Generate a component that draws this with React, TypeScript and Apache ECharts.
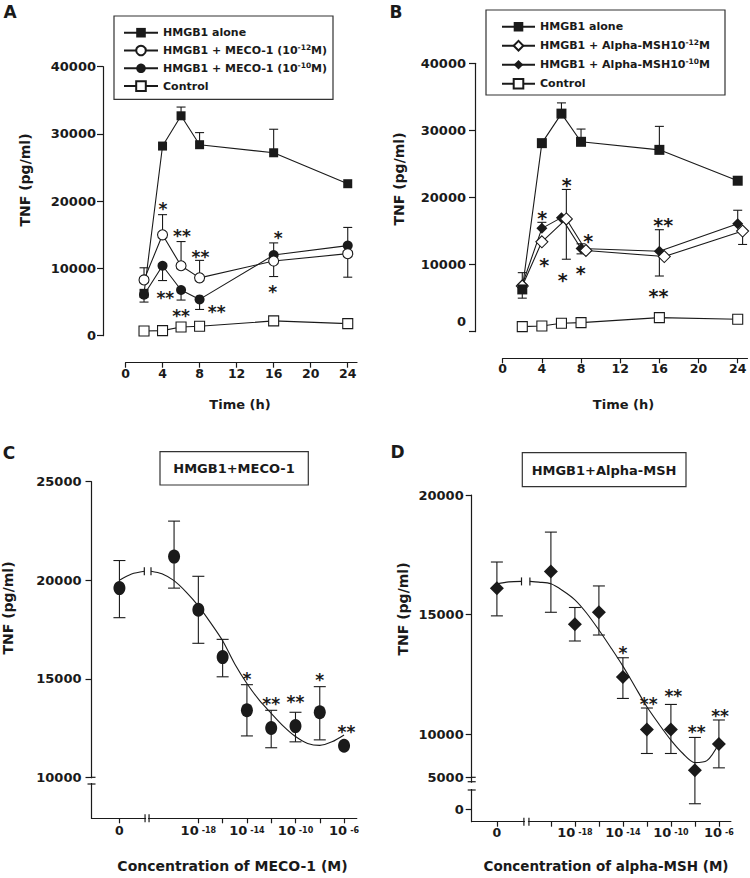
import React, { useEffect, useRef } from 'react';
import * as echarts from 'echarts';

// ---------------- Data ----------------
const TIMES = [2, 4, 6, 8, 16, 24];
const TIME_TICKS = [0, 4, 8, 12, 16, 20, 24];

// Panel A
const A_NAMES = ['HMGB1 alone', 'HMGB1 + MECO-1 (10-12M)', 'HMGB1 + MECO-1 (10-10M)', 'Control'];
const A_ALONE = [6300, 28200, 32700, 28400, 27200, 22600];
const A_ALONE_UP = [null, null, 34000, 30200, 30700, null];
const A_ALONE_DOWN = [null, null, null, null, null, null];
const A_M12 = [8300, 15000, 10400, 8600, 11100, 12200];
const A_M12_UP = [10100, 18000, 14000, 11200, null, null];
const A_M12_DOWN = [null, null, null, null, 8800, 8700];
const A_M10 = [6100, 10400, 6800, 5400, 12000, 13400];
const A_M10_UP = [null, null, null, null, 13800, 16100];
const A_M10_DOWN = [5000, 8200, 5300, 3900, null, null];
const A_CONTROL = [700, 750, 1300, 1400, 2200, 1800];
const A_STARS: [number, number, string][] = [
  [4.05, 19430, '*'], [6.1, 15460, '**'], [8.1, 12340, '**'], [16.5, 15120, '*'],
  [15.9, 7090, '*'], [4.3, 6200, '**'], [6.0, 3570, '**'], [9.85, 4160, '**'],
];

// Panel B
const B_NAMES = ['HMGB1 alone', 'HMGB1 + Alpha-MSH10-12M', 'HMGB1 + Alpha-MSH10-10M', 'Control'];
const B_TIMES_OPEN = [2, 4, 6.5, 8.5, 16.5, 24.5];
const B_ALONE = [6300, 28100, 32500, 28300, 27100, 22500];
const B_ALONE_UP = [null, null, 34100, 30200, 30600, null];
const B_ALONE_DOWN = [5000, null, null, null, null, null];
const B_MSH12 = [6800, 13400, 16800, 12100, 11200, 15000];
const B_MSH12_UP = [null, null, 21200, null, null, null];
const B_MSH12_DOWN = [null, null, 10800, null, null, 13000];
const B_MSH10 = [7000, 15400, 17000, 12400, 12000, 16100];
const B_MSH10_UP = [8800, 16300, null, 13100, 15200, 18100];
const B_MSH10_DOWN = [null, null, null, 11600, 8300, null];
const B_CONTROL = [750, 850, 1250, 1350, 2100, 1850];
const B_STARS: [number, number, string][] = [
  [6.54, 22610, '*'], [4.04, 17650, '*'], [4.25, 10690, '*'], [6.13, 8450, '*'],
  [8.74, 14160, '*'], [7.97, 9450, '*'], [16.4, 16650, '**'], [15.9, 5960, '**'],
];

// Panels C and D: x = log10 concentration; "0" drawn at ZERO_POS
const ZERO_POS = -24.5;
const CONC_X = [ZERO_POS, -20, -18, -16, -14, -12, -10, -8, -6];
const C_TICKS = [ZERO_POS, -18, -16, -14, -12, -10, -8, -6];
const D_TICKS = [ZERO_POS, -20, -18, -16, -14, -12, -10, -8, -6];
const CONC_LABELS = [ZERO_POS, -18, -14, -10, -6];

const C_VAL = [19600, 21200, 18500, 16100, 13400, 12500, 12600, 13300, 11600];
const C_UP = [21000, 23000, 20200, 17000, 14700, 13400, 13300, 14600, null];
const C_DOWN = [18100, 19600, 16800, 15100, 12100, 11500, 11800, 11900, null];
const C_CURVE_L = [[-24.5, 20000], [-23.5, 20320], [-22.45, 20460]];
const C_CURVE_R = [[-21.9, 20460], [-21, 20330], [-20, 19980], [-19, 19400], [-18, 18700], [-17, 17850], [-16, 16930], [-15, 15750], [-14, 14760], [-13, 13930], [-12, 13250], [-11, 12600], [-10, 12070], [-9, 11720], [-8, 11620], [-7, 11800], [-6, 12150]];
const C_STARS: [number, number, string][] = [[-14, 15190, '*'], [-12, 13960, '**'], [-10, 14060, '**'], [-8, 15160, '*'], [-5.8, 12540, '**']];
const C_YTICKS = [10000, 15000, 20000, 25000];

const D_VAL = [16100, 16800, 14600, 15100, 12400, 10200, 10200, 8500, 9600];
const D_UP = [17200, 18450, 15300, 16200, 13200, 11100, 11250, 9870, 10600];
const D_DOWN = [14950, 15100, 13900, 14150, 11500, 9200, 9200, 7100, 8600];
const D_CURVE_L = [[-24.5, 16290], [-23.5, 16370], [-22.45, 16390]];
const D_CURVE_R = [[-21.75, 16390], [-21, 16360], [-20, 16290], [-19, 16000], [-18, 15620], [-17, 15050], [-16, 14360], [-15, 13620], [-14, 12850], [-13, 12000], [-12, 11150], [-11, 10430], [-10, 9760], [-9, 9200], [-8, 8820], [-7, 8900], [-6, 9620]];
const D_STARS: [number, number, string][] = [[-14, 13590, '*'], [-11.85, 11430, '**'], [-9.8, 11780, '**'], [-7.85, 10290, '**'], [-5.9, 10940, '**']];
const D_YTICKS_UPPER = [10000, 15000, 20000];
const D_YTICKS_LOWER = [0, 5000];

// ---------------- Style / layout ----------------
const FONT = 'DejaVu Sans';
const INK = '#1a1a1a';

function pairs(xs: number[], ys: number[]) {
  return xs.map((x, i) => [x, ys[i]]);
}
function errs(xs: number[], ys: number[], up: (number | null)[], down: (number | null)[]) {
  const out: number[][] = [];
  xs.forEach((x, i) => {
    if (up[i] != null) out.push([x, ys[i], up[i] as number]);
    if (down[i] != null) out.push([x, ys[i], down[i] as number]);
  });
  return out;
}

function lineSeries(name: string, xs: number[], ys: number[], symbol: string, size: any, filled: boolean, gi: number) {
  return {
    type: 'line', name, xAxisIndex: gi, yAxisIndex: gi, data: pairs(xs, ys),
    symbol, symbolSize: size, showSymbol: true,
    lineStyle: { color: INK, width: 1.1 },
    itemStyle: { color: filled ? INK : '#ffffff', borderColor: INK, borderWidth: filled ? 0 : 1.1, opacity: 1 },
    z: 3,
  };
}

function errSeries(data: number[][], xi: number, yi: number, cap: number) {
  return {
    type: 'custom', xAxisIndex: xi, yAxisIndex: yi, data, z: 1, silent: true,
    renderItem: (params: any, api: any) => {
      const x = api.value(0);
      const p0 = api.coord([x, api.value(1)]);
      const p1 = api.coord([x, api.value(2)]);
      const st = { stroke: INK, lineWidth: 1.1, fill: null };
      return {
        type: 'group', children: [
          { type: 'line', shape: { x1: p0[0], y1: p0[1], x2: p1[0], y2: p1[1] }, style: st },
          { type: 'line', shape: { x1: p1[0] - cap / 2, y1: p1[1], x2: p1[0] + cap / 2, y2: p1[1] }, style: st },
        ],
      };
    },
  };
}

function starSeries(stars: [number, number, string][], xi: number, yi: number, size: number) {
  return {
    type: 'custom', xAxisIndex: xi, yAxisIndex: yi, data: stars.map((s) => [s[0], s[1]]), z: 6, silent: true,
    renderItem: (params: any, api: any) => {
      const p = api.coord([api.value(0), api.value(1)]);
      return {
        type: 'text', x: p[0], y: p[1] + size * 0.25,
        style: { text: stars[params.dataIndex][2], fontSize: size, fontWeight: 'bold', fontFamily: FONT, fill: INK, align: 'center', verticalAlign: 'middle' },
      };
    },
  };
}

function curveSeries(data: number[][], gi: number) {
  return {
    type: 'line', xAxisIndex: gi, yAxisIndex: gi, data, symbol: 'none', smooth: 0.3,
    lineStyle: { color: INK, width: 1.1 }, z: 2, silent: true,
  };
}

const axisLine = { show: true, onZero: false, lineStyle: { color: INK, width: 1.2 } };
const labelBase = { fontFamily: FONT, fontWeight: 'bold', color: INK };

const legendFormatter = (name: string) => name.replace(/10(-1\d)M/, '10{s|$1}M');

function buildOption() {
  const timeX = (gi: number, margin: number, offset: number) => ({
    type: 'value', gridIndex: gi, min: 0, max: 25, offset, position: 'bottom',
    axisLine, splitLine: { show: false },
    axisTick: { show: true, length: 5, lineStyle: { color: INK, width: 1.2 }, customValues: TIME_TICKS },
    axisLabel: { ...labelBase, fontSize: 12.5, margin, customValues: TIME_TICKS, formatter: (v: number) => String(v) },
  });
  const concX = (gi: number, min: number, max: number, ticks: number[], margin: number) => ({
    type: 'value', gridIndex: gi, min, max, position: 'bottom',
    axisLine, splitLine: { show: false },
    axisTick: { show: true, length: 5, lineStyle: { color: INK, width: 1.2 }, customValues: ticks },
    axisLabel: {
      ...labelBase, fontSize: 12.5, margin, customValues: CONC_LABELS,
      formatter: (v: number) => (Math.abs(v - ZERO_POS) < 1e-6 ? '0' : '{n|10}{e|' + String(v) + '}'),
      rich: {
        n: { ...labelBase, fontSize: 13 },
        e: { ...labelBase, fontSize: 8, padding: [0, 0, 0, 3] },
      },
    },
  });
  const tnfY = (gi: number, offset: number, margin: number, rich?: boolean) => ({
    type: 'value', gridIndex: gi, min: 0, max: 40000, interval: 10000, offset, position: 'left',
    axisLine, splitLine: { show: false },
    axisTick: { show: true, length: 6, lineStyle: { color: INK, width: 1.2 } },
    axisLabel: {
      ...labelBase, fontSize: 13, margin,
      formatter: (v: number) => (rich && v === 0 ? '{z|0}' : String(v)),
      rich: { z: { ...labelBase, fontSize: 13, padding: [0, 0, 20, 0] } },
    },
  });
  const customY = (gi: number, min: number, max: number, ticks: number[], margin: number, showLine = true) => ({
    type: 'value', gridIndex: gi, min, max, position: 'left', offset: 0,
    axisLine: { ...axisLine, show: showLine }, splitLine: { show: false },
    axisTick: { show: true, length: 6, lineStyle: { color: INK, width: 1.2 }, customValues: ticks },
    axisLabel: { ...labelBase, fontSize: 13, margin, customValues: ticks, formatter: (v: number) => String(v) },
  });

  const legendText = {
    fontFamily: FONT, fontWeight: 'bold', fontSize: 11, color: INK, lineHeight: 14,
    rich: { s: { fontFamily: FONT, fontWeight: 'bold', fontSize: 7.5, color: INK, verticalAlign: 'top', lineHeight: 8 } },
  };

  return {
    animation: false,
    backgroundColor: '#ffffff',
    grid: [
      { left: 125.5, top: 66.7, width: 231.5, height: 269 },
      { left: 502.7, top: 63.3, width: 244.8, height: 268.4 },
      { left: 91.5, top: 481.7, width: 265.3, height: 336.6 },
      { left: 471.7, top: 495, width: 259.2, height: 326.7 },
    ],
    xAxis: [
      timeX(0, 4, 27),
      timeX(1, 3.5, 26.6),
      concX(2, -26.8, -4.95, C_TICKS, 6),
      concX(3, -26.6, -5.0, D_TICKS, 4),
    ],
    yAxis: [
      tnfY(0, 22.5, 7),
      tnfY(1, 27.7, 9, true),
      customY(2, 7920, 25000, C_YTICKS, 10),
      customY(3, 6350, 20000, D_YTICKS_UPPER, 8),
      customY(3, -1937, 49109, D_YTICKS_LOWER, 8, false),
    ],
    legend: [
      {
        left: 123, top: 25.7, orient: 'vertical', padding: 0, itemWidth: 34, itemHeight: 12, itemGap: 3.8,
        data: A_NAMES, formatter: legendFormatter, textStyle: legendText, selectedMode: false,
      },
      {
        left: 501, top: 19.7, orient: 'vertical', padding: 0, itemWidth: 33, itemHeight: 12, itemGap: 5,
        data: B_NAMES, formatter: legendFormatter, textStyle: legendText, selectedMode: false,
      },
    ],
    series: [
      // A
      errSeries([
        ...errs(TIMES, A_ALONE, A_ALONE_UP, A_ALONE_DOWN),
        ...errs(TIMES, A_M12, A_M12_UP, A_M12_DOWN),
        ...errs(TIMES, A_M10, A_M10_UP, A_M10_DOWN),
      ], 0, 0, 9),
      lineSeries(A_NAMES[3], TIMES, A_CONTROL, 'rect', 10, false, 0),
      lineSeries(A_NAMES[2], TIMES, A_M10, 'circle', 10, true, 0),
      lineSeries(A_NAMES[1], TIMES, A_M12, 'circle', 10, false, 0),
      lineSeries(A_NAMES[0], TIMES, A_ALONE, 'rect', 9, true, 0),
      starSeries(A_STARS, 0, 0, 17),
      // B
      errSeries([
        ...errs(TIMES, B_ALONE, B_ALONE_UP, B_ALONE_DOWN),
        ...errs(B_TIMES_OPEN, B_MSH12, B_MSH12_UP, B_MSH12_DOWN),
        ...errs(TIMES, B_MSH10, B_MSH10_UP, B_MSH10_DOWN),
      ], 1, 1, 9),
      lineSeries(B_NAMES[3], TIMES, B_CONTROL, 'rect', 10, false, 1),
      lineSeries(B_NAMES[2], TIMES, B_MSH10, 'diamond', 11, true, 1),
      lineSeries(B_NAMES[1], B_TIMES_OPEN, B_MSH12, 'diamond', 12, false, 1),
      lineSeries(B_NAMES[0], TIMES, B_ALONE, 'rect', 10, true, 1),
      starSeries(B_STARS, 1, 1, 19),
      // C
      errSeries(errs(CONC_X, C_VAL, C_UP, C_DOWN), 2, 2, 12),
      curveSeries(C_CURVE_L, 2),
      curveSeries(C_CURVE_R, 2),
      {
        type: 'scatter', xAxisIndex: 2, yAxisIndex: 2, data: pairs(CONC_X, C_VAL),
        symbol: 'circle', symbolSize: [12, 14], itemStyle: { color: INK, opacity: 1 }, z: 4, silent: true,
      },
      starSeries(C_STARS, 2, 2, 17),
      // D
      errSeries(errs(CONC_X, D_VAL, D_UP, D_DOWN), 3, 3, 12),
      curveSeries(D_CURVE_L, 3),
      curveSeries(D_CURVE_R, 3),
      {
        type: 'scatter', xAxisIndex: 3, yAxisIndex: 3, data: pairs(CONC_X, D_VAL),
        symbol: 'diamond', symbolSize: 14, itemStyle: { color: INK, opacity: 1 }, z: 4, silent: true,
      },
      starSeries(D_STARS, 3, 3, 17),
    ],
  };
}

function buildGraphic(chart: any) {
  const g: any[] = [];
  const txt = (x: number, y: number, text: string, size: number, extra: any = {}) => ({
    type: 'text', x, y, ...extra,
    style: { text, fontSize: size, fontWeight: 'bold', fontFamily: FONT, fill: INK, align: 'center', verticalAlign: 'middle' },
  });
  const rect = (x: number, y: number, w: number, h: number) => ({
    type: 'rect', shape: { x, y, width: w, height: h }, style: { fill: 'none', stroke: '#333', lineWidth: 1.2 },
  });
  const ln = (x1: number, y1: number, x2: number, y2: number) => ({
    type: 'line', shape: { x1, y1, x2, y2 }, style: { stroke: INK, lineWidth: 1.2 }, z: 10,
  });
  const white = (x: number, y: number, w: number, h: number) => ({
    type: 'rect', shape: { x, y, width: w, height: h }, style: { fill: '#ffffff' }, z: 9,
  });
  const px = (axis: string, idx: number, v: number) => chart.convertToPixel({ [axis]: idx }, v) as number;

  // panel letters
  g.push(txt(10, 12, 'A', 17), txt(396, 12, 'B', 17), txt(9, 453, 'C', 17), txt(397.5, 452, 'D', 17));
  // axis titles
  const rot = { rotation: Math.PI / 2 };
  g.push(txt(25, 180, 'TNF (pg/ml)', 14, rot), txt(398.5, 179, 'TNF (pg/ml)', 14, rot));
  g.push(txt(7.5, 608, 'TNF (pg/ml)', 14, rot), txt(402.5, 609, 'TNF (pg/ml)', 14, rot));
  g.push(txt(240, 404, 'Time (h)', 13), txt(623.5, 404, 'Time (h)', 13));
  g.push(txt(232.5, 866, 'Concentration of MECO-1 (M)', 14), txt(606, 866, 'Concentration of alpha-MSH (M)', 13.5));
  // legend boxes
  g.push(rect(114, 16, 219, 83.3), rect(486, 10, 239, 85));
  // C/D title boxes
  g.push(rect(160, 451.7, 148.3, 33.3), txt(234, 468.5, 'HMGB1+MECO-1', 13));
  g.push(rect(522.3, 452.7, 163.7, 34), txt(604, 470, 'HMGB1+Alpha-MSH', 13));

  // C breaks
  {
    const x0 = px('xAxisIndex', 2, -26.8);
    const y0 = px('yAxisIndex', 2, 7920);
    const ya = px('yAxisIndex', 2, 10000);
    const yb = px('yAxisIndex', 2, 9660);
    g.push(white(x0 - 2, ya + 1, 4, yb - ya - 2), ln(x0, ya, x0 + 4, ya), ln(x0 - 4, yb, x0 + 4, yb));
    const xa = px('xAxisIndex', 2, -22.39);
    const xb = px('xAxisIndex', 2, -22.06);
    g.push(white(xa + 1, y0 - 2, xb - xa - 2, 4), ln(xa, y0 - 4, xa, y0 + 4), ln(xb, y0 - 4, xb, y0 + 4));
    const c1 = C_CURVE_L[C_CURVE_L.length - 1];
    const c2 = C_CURVE_R[0];
    const p1 = chart.convertToPixel({ gridIndex: 2 }, c1);
    const p2 = chart.convertToPixel({ gridIndex: 2 }, c2);
    g.push(ln(p1[0], p1[1] - 4, p1[0], p1[1] + 4), ln(p2[0], p2[1] - 4, p2[0], p2[1] + 4));
  }
  // D breaks
  {
    const x0 = px('xAxisIndex', 3, -26.6);
    const y0 = px('yAxisIndex', 3, 6350);
    const y5 = px('yAxisIndex', 4, 5000);
    const ya = px('yAxisIndex', 4, 4310);
    const yb = px('yAxisIndex', 4, 3016);
    g.push(white(x0 - 2, ya + 1, 4, yb - ya - 2), ln(x0, y5, x0 + 4, y5), ln(x0 - 4, ya, x0 + 4, ya), ln(x0 - 4, yb, x0 + 4, yb));
    const xa = px('xAxisIndex', 3, -22.25);
    const xb = px('xAxisIndex', 3, -21.83);
    g.push(white(xa + 1, y0 - 2, xb - xa - 2, 4), ln(xa, y0 - 4, xa, y0 + 4), ln(xb, y0 - 4, xb, y0 + 4));
    const c1 = D_CURVE_L[D_CURVE_L.length - 1];
    const c2 = D_CURVE_R[0];
    const p1 = chart.convertToPixel({ gridIndex: 3 }, c1);
    const p2 = chart.convertToPixel({ gridIndex: 3 }, c2);
    g.push(ln(p1[0], p1[1] - 4, p1[0], p1[1] + 4), ln(p2[0], p2[1] - 4, p2[0], p2[1] + 4));
  }
  return g;
}

export default function App() {
  const ref = useRef<HTMLDivElement>(null);
  useEffect(() => {
    if (!ref.current) return;
    const chart = echarts.init(ref.current, undefined, { renderer: 'svg' });
    chart.setOption(buildOption() as any);
    chart.setOption({ graphic: buildGraphic(chart) } as any);
    return () => chart.dispose();
  }, []);
  return (
    <div
      ref={ref}
      style={{ position: 'absolute', left: 0, top: 0, width: 750, height: 878, background: '#fff' }}
    />
  );
}
